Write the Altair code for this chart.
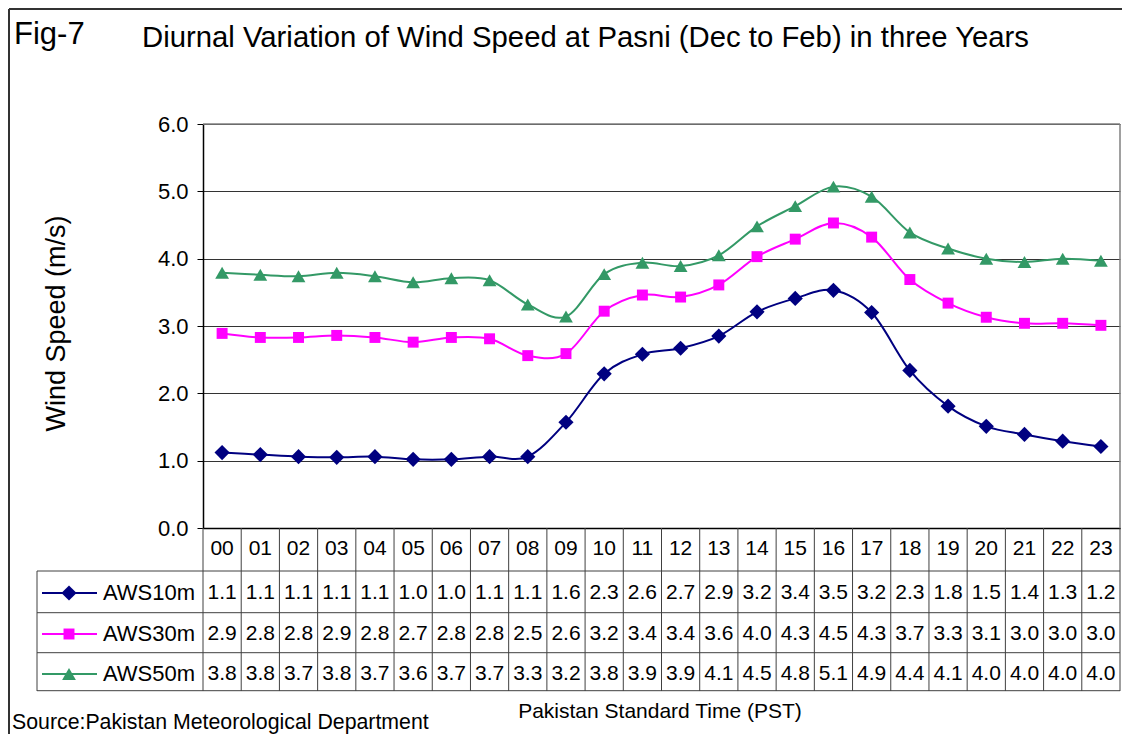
import altair as alt
import pandas as pd

# ---------------- data ----------------
HOURS = ["00", "01", "02", "03", "04", "05", "06", "07", "08", "09", "10", "11",
         "12", "13", "14", "15", "16", "17", "18", "19", "20", "21", "22", "23"]
SERIES = ["AWS10m", "AWS30m", "AWS50m"]

AWS10 = [1.12, 1.09, 1.06, 1.05, 1.06, 1.02, 1.02, 1.06, 1.06, 1.57, 2.29, 2.58,
         2.67, 2.85, 3.21, 3.41, 3.53, 3.20, 2.34, 1.81, 1.51, 1.39, 1.29, 1.21]
AWS30 = [2.89, 2.83, 2.83, 2.86, 2.83, 2.76, 2.83, 2.81, 2.56, 2.59, 3.22, 3.46,
         3.43, 3.61, 4.03, 4.29, 4.53, 4.32, 3.69, 3.34, 3.13, 3.04, 3.04, 3.01]
AWS50 = [3.79, 3.76, 3.74, 3.79, 3.74, 3.65, 3.71, 3.68, 3.32, 3.14, 3.77, 3.94,
         3.89, 4.05, 4.48, 4.78, 5.07, 4.92, 4.39, 4.15, 4.00, 3.95, 4.00, 3.97]

T10 = ["1.1", "1.1", "1.1", "1.1", "1.1", "1.0", "1.0", "1.1", "1.1", "1.6", "2.3", "2.6",
       "2.7", "2.9", "3.2", "3.4", "3.5", "3.2", "2.3", "1.8", "1.5", "1.4", "1.3", "1.2"]
T30 = ["2.9", "2.8", "2.8", "2.9", "2.8", "2.7", "2.8", "2.8", "2.5", "2.6", "3.2", "3.4",
       "3.4", "3.6", "4.0", "4.3", "4.5", "4.3", "3.7", "3.3", "3.1", "3.0", "3.0", "3.0"]
T50 = ["3.8", "3.8", "3.7", "3.8", "3.7", "3.6", "3.7", "3.7", "3.3", "3.2", "3.8", "3.9",
       "3.9", "4.1", "4.5", "4.8", "5.1", "4.9", "4.4", "4.1", "4.0", "4.0", "4.0", "4.0"]

Y_TICKS = [0, 1, 2, 3, 4, 5, 6]

TITLE = "Diurnal Variation of Wind Speed at Pasni (Dec to Feb) in three Years"
FIG = "Fig-7"
Y_TITLE = "Wind Speed (m/s)"
X_TITLE = "Pakistan Standard Time (PST)"
SOURCE = "Source:Pakistan Meteorological Department"

# ---------------- styles / layout ----------------
COLORS = ["#000080", "#FF00FF", "#339966"]
SHAPES = ["diamond", "square", "triangle-up"]
SIZES = [230, 120, 190]
FONT = "Liberation Sans"
TABLE_FS = 21

W, H = 917, 404
STEP = W / len(HOURS)
HEADER_Y = 425
ROW_Y = [469, 510, 550]
HLINES = [447, 488.7, 528.7, 566.7]
TABLE_LEFT = -166
TABLE_BOTTOM = 567

vals = {"AWS10m": AWS10, "AWS30m": AWS30, "AWS50m": AWS50}
labs = {"AWS10m": T10, "AWS30m": T30, "AWS50m": T50}
rows = []
for s in SERIES:
    for h, v, t in zip(HOURS, vals[s], labs[s]):
        rows.append({"series": s, "hour": h, "value": v, "label": t})
df = pd.DataFrame(rows)
hours_df = pd.DataFrame({"hour": HOURS})

color_scale = alt.Scale(domain=SERIES, range=COLORS)

x_enc = alt.X("hour:N", scale=alt.Scale(type="point", domain=HOURS, padding=0.5),
              axis=alt.Axis(labels=False, ticks=False, title=None, grid=False,
                            domainColor="#000000", domainWidth=1.5))
y_enc = alt.Y("value:Q", scale=alt.Scale(domain=[0, 6], nice=False),
              axis=alt.Axis(values=Y_TICKS, format=".1f", labelFontSize=22, labelFont=FONT,
                            labelColor="#000000", tickSize=6, tickColor="#000000",
                            labelPadding=9, domainColor="#000000", domainWidth=1.5,
                            gridColor="#333333", gridWidth=1, title=None))
c_enc = alt.Color("series:N", scale=color_scale, legend=None)


def one():
    return pd.DataFrame({"k": [0]})


layers = []

# plot area top / right border
layers.append(alt.Chart(one()).mark_rule(color="#808080", strokeWidth=1.5).encode(
    x=alt.value(0), x2=alt.value(W), y=alt.value(0)))
layers.append(alt.Chart(one()).mark_rule(color="#808080", strokeWidth=1.5).encode(
    x=alt.value(W), y=alt.value(0), y2=alt.value(H)))

# lines
layers.append(alt.Chart(df).mark_line(interpolate="cardinal", strokeWidth=2).encode(
    x=x_enc, y=y_enc, color=c_enc, detail="series:N"))

# markers, one layer per series
for i, s in enumerate(SERIES):
    layers.append(alt.Chart(df).transform_filter(alt.datum.series == s).mark_point(
        filled=True, opacity=1, shape=SHAPES[i], size=SIZES[i]).encode(
        x=x_enc, y=y_enc, color=c_enc))

# data table: vertical lines
layers.append(alt.Chart(hours_df).mark_rule(color="#404040", strokeWidth=1, xOffset=-STEP / 2).encode(
    x=alt.X("hour:N"), y=alt.value(H), y2=alt.value(TABLE_BOTTOM)))
layers.append(alt.Chart(one()).mark_rule(color="#404040", strokeWidth=1).encode(
    x=alt.value(W), y=alt.value(H), y2=alt.value(TABLE_BOTTOM)))
layers.append(alt.Chart(one()).mark_rule(color="#404040", strokeWidth=1).encode(
    x=alt.value(TABLE_LEFT), y=alt.value(HLINES[0]), y2=alt.value(TABLE_BOTTOM)))
for yy in HLINES:
    layers.append(alt.Chart(one()).mark_rule(color="#404040", strokeWidth=1).encode(
        x=alt.value(TABLE_LEFT), x2=alt.value(W), y=alt.value(yy)))

# header row
layers.append(alt.Chart(hours_df).mark_text(fontSize=TABLE_FS, font=FONT, color="#000000",
                                            baseline="middle").encode(
    x=alt.X("hour:N"), y=alt.value(HEADER_Y), text="hour:N"))

# value rows + legend keys
for i, s in enumerate(SERIES):
    layers.append(alt.Chart(df).transform_filter(alt.datum.series == s).mark_text(
        fontSize=TABLE_FS, font=FONT, color="#000000", baseline="middle").encode(
        x=alt.X("hour:N"), y=alt.value(ROW_Y[i]), text="label:N"))
    key = pd.DataFrame({"series": [s]})
    layers.append(alt.Chart(key).mark_rule(strokeWidth=2).encode(
        x=alt.value(-161), x2=alt.value(-106), y=alt.value(ROW_Y[i]), color=c_enc))
    layers.append(alt.Chart(key).mark_point(filled=True, opacity=1, shape=SHAPES[i],
                                            size=SIZES[i]).encode(
        x=alt.value(-134), y=alt.value(ROW_Y[i]), color=c_enc))
    layers.append(alt.Chart(key).mark_text(fontSize=22, font=FONT, color="#000000",
                                           align="left", baseline="middle").encode(
        x=alt.value(-100), y=alt.value(ROW_Y[i]), text="series:N"))


# texts
def text_layer(t, x, y, size, align="left", angle=0):
    kw = dict(fontSize=size, font=FONT, color="#000000", align=align, baseline="middle")
    if angle:
        kw["angle"] = angle
    return alt.Chart(pd.DataFrame({"t": [t]})).mark_text(**kw).encode(
        x=alt.value(x), y=alt.value(y), text="t:N")


layers.append(text_layer(FIG, -189, -89, 31))
layers.append(text_layer(TITLE, -61, -86, 29.3))
layers.append(text_layer(Y_TITLE, -146, 199.5, 27, align="center", angle=270))
layers.append(text_layer(X_TITLE, 457, 588, 21, align="center"))
layers.append(text_layer(SOURCE, -191, 599, 21.3))

# outer frame (top and left edges)
layers.append(alt.Chart(one()).mark_rule(color="#333333", strokeWidth=2).encode(
    x=alt.value(-194), x2=alt.value(W + 10), y=alt.value(-115)))
layers.append(alt.Chart(one()).mark_rule(color="#333333", strokeWidth=2).encode(
    x=alt.value(-194), y=alt.value(-115), y2=alt.value(H + 220)))

chart = alt.layer(*layers).properties(
    width=W, height=H,
    autosize=alt.AutoSizeParams(type="none"),
    padding={"left": 195, "top": 116, "right": 2, "bottom": 206},
    background="#ffffff",
).configure_view(stroke=None)

chart.save("out.html", embed_options={"renderer": "svg", "actions": False})
